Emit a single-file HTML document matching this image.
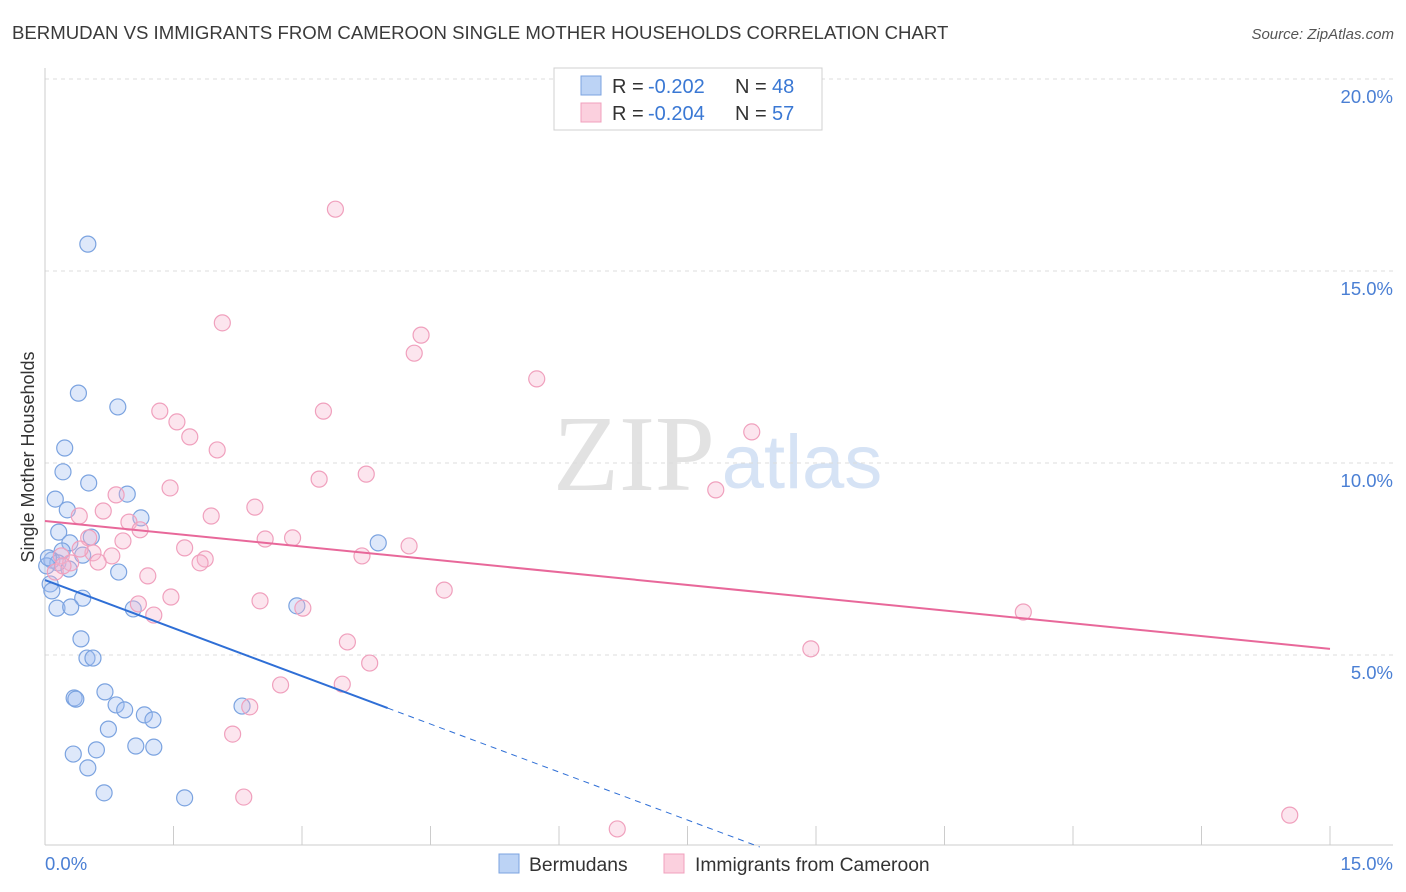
<!DOCTYPE html>
<html><head><meta charset="utf-8"><style>
body{margin:0;background:#fff;font-family:"Liberation Sans",sans-serif;}
svg{display:block}
</style></head><body>
<svg id="chart" width="1406" height="892" xmlns="http://www.w3.org/2000/svg" font-family="Liberation Sans, sans-serif">
<text x="12" y="39" font-size="18.6" fill="#3a3a3a">BERMUDAN VS IMMIGRANTS FROM CAMEROON SINGLE MOTHER HOUSEHOLDS CORRELATION CHART</text>
<text x="1394" y="39" font-size="15" fill="#555" font-style="italic" text-anchor="end">Source: ZipAtlas.com</text>
<g>
<text x="634" y="490" font-size="108" font-family="Liberation Serif, serif" fill="#e2e2e2" text-anchor="middle">ZIP</text>
<text x="802" y="488" font-size="76" fill="#d6e3f5" text-anchor="middle">atlas</text>
</g>
<g id="grid"></g>
<g id="axes"></g>
<g id="marks"></g>
<text transform="translate(34,457) rotate(-90)" font-size="18" fill="#333" text-anchor="middle">Single Mother Households</text>
<g font-size="20">
<rect x="554" y="68" width="268" height="62" fill="#fff" stroke="#d0d0d0"/>
<rect x="581" y="76" width="20" height="19" fill="#bcd3f5" stroke="#7ba3e0"/>
<text x="612" y="93" fill="#333">R =</text><text x="648" y="93" fill="#3a78d4">-0.202</text>
<text x="735" y="93" fill="#333">N =</text><text x="772" y="93" fill="#3a78d4">48</text>
<rect x="581" y="103" width="20" height="19" fill="#fbd0de" stroke="#f0a0bd"/>
<text x="612" y="120" fill="#333">R =</text><text x="648" y="120" fill="#3a78d4">-0.204</text>
<text x="735" y="120" fill="#333">N =</text><text x="772" y="120" fill="#3a78d4">57</text>
</g>
<g>
<rect x="499" y="854" width="20" height="19" fill="#bcd3f5" stroke="#7ba3e0"/>
<text x="529" y="871" font-size="19.3" fill="#333">Bermudans</text>
<rect x="664" y="854" width="20" height="19" fill="#fbd0de" stroke="#f0a0bd"/>
<text x="695" y="871" font-size="19.3" fill="#333">Immigrants from Cameroon</text>
</g>
</svg>
<script>
const blueX=[0.50,0.39,0.85,0.23,0.21,0.51,0.12,0.96,0.26,1.12,0.16,0.54,0.29,0.20,0.44,0.08,0.15,0.02,0.28,0.86,0.06,0.08,0.44,0.14,0.30,1.03,2.94,0.42,0.49,0.56,0.70,0.34,0.36,0.83,0.93,1.16,1.26,2.30,0.74,0.60,1.06,1.27,0.33,0.50,0.69,1.63,3.89,0.04];
const blueY=[15.70,11.82,11.46,10.39,9.77,9.48,9.06,9.19,8.78,8.57,8.20,8.07,7.92,7.71,7.60,7.47,7.40,7.32,7.24,7.16,6.85,6.67,6.48,6.22,6.25,6.20,6.28,5.42,4.92,4.92,4.04,3.88,3.85,3.70,3.57,3.44,3.31,3.67,3.07,2.53,2.63,2.60,2.42,2.06,1.41,1.28,7.92,7.53];
const pinkX=[3.39,2.07,4.39,4.31,5.74,1.34,3.25,1.54,1.69,8.25,2.01,3.20,3.75,1.46,0.83,7.83,2.45,1.94,0.68,0.40,0.98,1.11,0.51,0.91,2.57,2.89,4.25,1.63,0.56,0.19,0.78,0.30,1.87,1.81,3.70,0.62,0.12,1.20,4.66,1.47,2.51,1.09,3.01,1.27,11.42,3.53,8.94,3.79,2.75,3.47,2.39,2.19,2.32,6.68,14.53,0.21,0.41];
const pinkY=[16.61,13.65,13.33,12.86,12.19,11.35,11.35,11.07,10.68,10.81,10.34,9.58,9.71,9.35,9.17,9.30,8.85,8.62,8.75,8.62,8.46,8.26,8.05,7.97,8.02,8.05,7.84,7.79,7.66,7.58,7.58,7.40,7.50,7.40,7.58,7.42,7.16,7.06,6.69,6.51,6.41,6.33,6.22,6.04,6.12,5.34,5.16,4.79,4.22,4.24,3.65,2.94,1.30,0.47,0.83,7.32,7.76];
const blueTrend=[6.95,-0.833]; // intercept, slope
const pinkTrend=[8.49,-0.222];
const yTicks=[5,10,15,20];
const xTickCount=10;
const NS="http://www.w3.org/2000/svg";
const X0=45,X1=1330,Y0=847,PXPER=192/5;
const sx=v=>X0+(v/15)*(X1-X0);
const sy=v=>Y0-v*PXPER;
function mk(tag,attrs,parent){const e=document.createElementNS(NS,tag);for(const k in attrs)e.setAttribute(k,attrs[k]);document.getElementById(parent).appendChild(e);return e;}
yTicks.forEach(t=>{
  const l=mk('line',{x1:45,x2:1393,y1:sy(t),y2:sy(t),stroke:'#dcdcdc','stroke-dasharray':'4,4'},'grid');
  
  
  const tx=mk('text',{x:1393,y:sy(t)+24,'font-size':18.5,fill:'#4a7fd4','text-anchor':'end'},'axes');
  tx.textContent=t.toFixed(1)+'%';
  
  
});
const ax=mk('line',{x1:45,x2:45,y1:68,y2:845,stroke:'#ccc'},'axes');


const bx=mk('line',{x1:45,x2:1393,y1:845,y2:845,stroke:'#ccc'},'axes');


for(let i=0;i<=xTickCount;i++){
  const v=15*i/xTickCount;
  const t=mk('line',{x1:sx(v),x2:sx(v),y1:826,y2:845,stroke:'#ccc'},'axes');
  
  
}
const xl=mk('text',{x:45,y:870,'font-size':18.5,fill:'#4a7fd4'},'axes');xl.textContent='0.0%';


const xr=mk('text',{x:1393,y:870,'font-size':18.5,fill:'#4a7fd4','text-anchor':'end'},'axes');xr.textContent='15.0%';


function pts(xs,ys,fill,stroke,name){xs.forEach((x,i)=>{
  const c=mk('circle',{cx:sx(x),cy:sy(ys[i]),r:8,fill:fill,stroke:stroke,'stroke-width':1.2},'marks');
  
  
});}
pts(blueX,blueY,'rgba(160,190,240,0.35)','#7ba3e0','bermudan-point');
pts(pinkX,pinkY,'rgba(245,180,205,0.35)','#f0a0bd','cameroon-point');
const bl=mk('line',{x1:sx(0),y1:sy(blueTrend[0]),x2:sx(4),y2:sy(blueTrend[0]+4*blueTrend[1]),stroke:'#2f6fd6','stroke-width':2},'marks');


const xe=-blueTrend[0]/blueTrend[1];
const bd=mk('line',{x1:sx(4),y1:sy(blueTrend[0]+4*blueTrend[1]),x2:sx(xe),y2:sy(0),stroke:'#2f6fd6','stroke-width':1,'stroke-dasharray':'6,5'},'marks');


const pl=mk('line',{x1:sx(0),y1:sy(pinkTrend[0]),x2:sx(15),y2:sy(pinkTrend[0]+15*pinkTrend[1]),stroke:'#e8689a','stroke-width':2},'marks');


</script>
</body></html>
